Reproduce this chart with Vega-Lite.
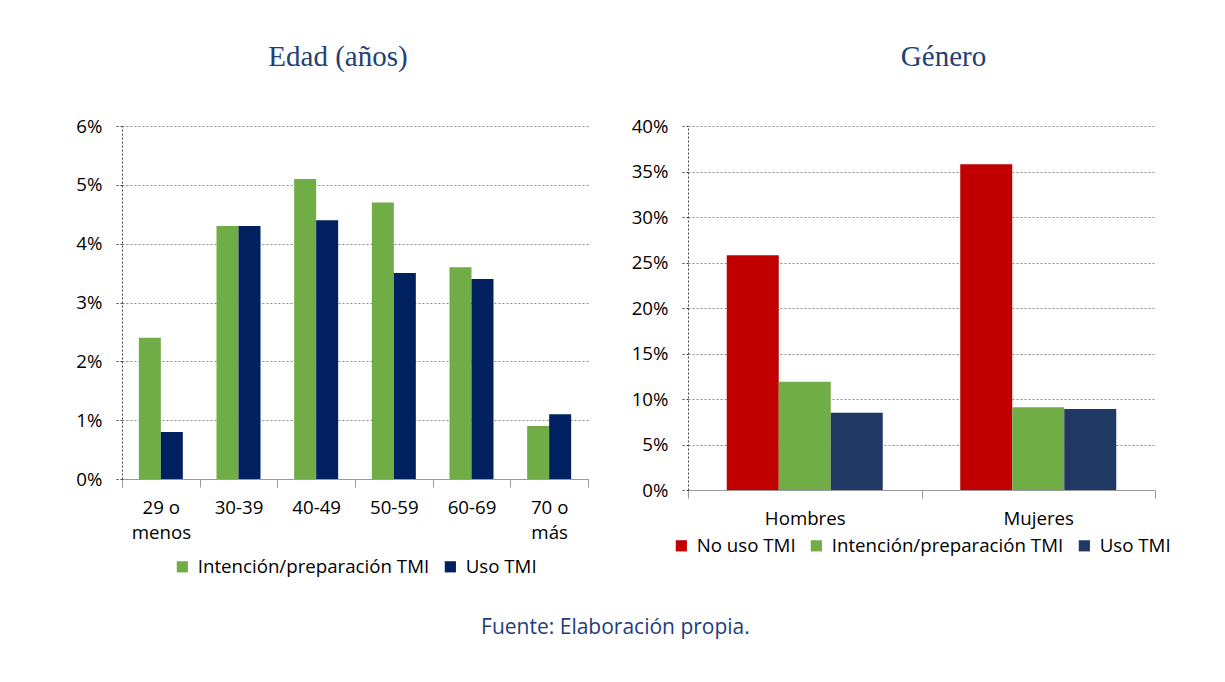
{
  "$schema": "https://vega.github.io/schema/vega-lite/v6.json",
  "background": "white",
  "padding": {"left": 75, "top": 43, "right": 5, "bottom": 5},
  "config": {
    "view": {"stroke": null},
    "font": "Open Sans",
    "axis": {"labelFont": "Open Sans", "labelFontSize": 18.7, "labelColor": "#000000", "title": null},
    "axisY": {
      "domainDash": [2, 2], "domainColor": "#444444", "tickDash": [2, 2], "tickColor": "#444444",
      "tickSize": 7, "labelPadding": 13, "gridDash": [2, 2], "gridColor": "#8c8c8c", "grid": true
    },
    "axisX": {
      "domainColor": "#9a9a9a", "tickColor": "#9a9a9a", "tickSize": 8, "tickBand": "extent",
      "labelAngle": 0, "labelPadding": 11, "grid": false, "labelLineHeight": 25
    },
    "legend": {
      "orient": "bottom", "direction": "horizontal", "title": null, "symbolType": "square",
      "symbolSize": 125, "symbolStrokeWidth": 0, "labelFont": "Open Sans", "labelFontSize": 18.7,
      "labelColor": "#000000", "labelOffset": 6, "columnPadding": 11, "labelLimit": 400,
      "layout": {"bottom": {"anchor": "middle"}}
    },
    "title": {"font": "Liberation Serif", "fontSize": 29, "fontWeight": "normal", "color": "#243F73"}
  },
  "title": {
    "text": "Fuente: Elaboración propia.", "orient": "bottom", "anchor": "middle",
    "font": "Open Sans", "fontSize": 21, "fontWeight": "normal", "color": "#1F3D7A", "offset": 40, "dx": -8
  },
  "spacing": 42,
  "hconcat": [
    {
      "width": 466,
      "height": 353,
      "title": {"text": "Edad (años)", "offset": 45, "dx": -17},
      "data": {
        "values": [
          {"edad": "29 o menos", "serie": "Intención/preparación TMI", "valor": 0.024},
          {"edad": "29 o menos", "serie": "Uso TMI", "valor": 0.008},
          {"edad": "30-39", "serie": "Intención/preparación TMI", "valor": 0.043},
          {"edad": "30-39", "serie": "Uso TMI", "valor": 0.043},
          {"edad": "40-49", "serie": "Intención/preparación TMI", "valor": 0.051},
          {"edad": "40-49", "serie": "Uso TMI", "valor": 0.044},
          {"edad": "50-59", "serie": "Intención/preparación TMI", "valor": 0.047},
          {"edad": "50-59", "serie": "Uso TMI", "valor": 0.035},
          {"edad": "60-69", "serie": "Intención/preparación TMI", "valor": 0.036},
          {"edad": "60-69", "serie": "Uso TMI", "valor": 0.034},
          {"edad": "70 o más", "serie": "Intención/preparación TMI", "valor": 0.009},
          {"edad": "70 o más", "serie": "Uso TMI", "valor": 0.011}
        ]
      },
      "mark": {"type": "bar"},
      "encoding": {
        "x": {
          "field": "edad", "type": "nominal",
          "sort": ["29 o menos", "30-39", "40-49", "50-59", "60-69", "70 o más"],
          "scale": {"paddingInner": 0, "paddingOuter": 0},
          "axis": {
            "labelExpr": "datum.label == '29 o menos' ? ['29 o', 'menos'] : datum.label == '70 o más' ? ['70 o', 'más'] : datum.label"
          }
        },
        "xOffset": {
          "field": "serie", "type": "nominal",
          "sort": ["Intención/preparación TMI", "Uso TMI"],
          "scale": {"paddingInner": 0, "paddingOuter": 0.765}
        },
        "y": {
          "field": "valor", "type": "quantitative",
          "scale": {"domain": [0, 0.06], "nice": false},
          "axis": {"format": ".0%", "values": [0, 0.01, 0.02, 0.03, 0.04, 0.05, 0.06]}
        },
        "color": {
          "field": "serie", "type": "nominal",
          "scale": {"domain": ["Intención/preparación TMI", "Uso TMI"], "range": ["#70AD47", "#002060"]},
          "legend": {"offset": 15}
        }
      }
    },
    {
      "width": 467,
      "height": 364,
      "title": {"text": "Género", "offset": 45, "dx": 22},
      "data": {
        "values": [
          {"genero": "Hombres", "serie": "No uso TMI", "valor": 0.258},
          {"genero": "Hombres", "serie": "Intención/preparación TMI", "valor": 0.119},
          {"genero": "Hombres", "serie": "Uso TMI", "valor": 0.085},
          {"genero": "Mujeres", "serie": "No uso TMI", "valor": 0.358},
          {"genero": "Mujeres", "serie": "Intención/preparación TMI", "valor": 0.091},
          {"genero": "Mujeres", "serie": "Uso TMI", "valor": 0.089}
        ]
      },
      "mark": {"type": "bar"},
      "encoding": {
        "x": {
          "field": "genero", "type": "nominal", "sort": ["Hombres", "Mujeres"],
          "scale": {"paddingInner": 0, "paddingOuter": 0}
        },
        "xOffset": {
          "field": "serie", "type": "nominal",
          "sort": ["No uso TMI", "Intención/preparación TMI", "Uso TMI"],
          "scale": {"paddingInner": 0, "paddingOuter": 0.745}
        },
        "y": {
          "field": "valor", "type": "quantitative",
          "scale": {"domain": [0, 0.4], "nice": false},
          "axis": {"format": ".0%", "values": [0, 0.05, 0.1, 0.15, 0.2, 0.25, 0.3, 0.35, 0.4]}
        },
        "color": {
          "field": "serie", "type": "nominal",
          "scale": {"domain": ["No uso TMI", "Intención/preparación TMI", "Uso TMI"], "range": ["#C00000", "#70AD47", "#203864"]},
          "legend": {"offset": 8}
        }
      }
    }
  ],
  "resolve": {"scale": {"color": "independent", "xOffset": "independent", "x": "independent", "y": "independent"}}
}
